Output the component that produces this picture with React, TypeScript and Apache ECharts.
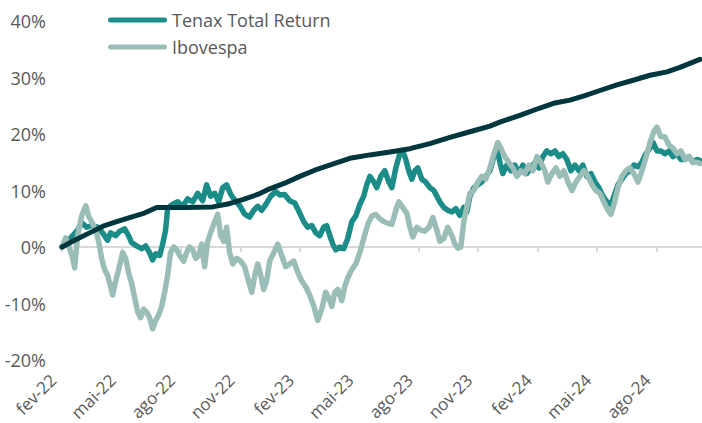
import React, { useEffect, useRef } from "react";
import * as echarts from "echarts";

// x = months since Feb 2022, y = cumulative return (%)
const xTickLabels = ["fev-22", "mai-22", "ago-22", "nov-22", "fev-23", "mai-23", "ago-23", "nov-23", "fev-24", "mai-24", "ago-24"];
const yTicks = { min: -20, max: 40, interval: 10 };

const tenax: [number, number][] = [
  [0, 0], [0.28, 1.0], [0.54, 2.0], [0.79, 3.0], [1.0, 4.3], [1.25, 3.5], [1.49, 3.8], [1.8, 3.5], [2.05, 2.5], [2.3, 1.2],
  [2.45, 2.5], [2.71, 2.0], [2.91, 2.8], [3.16, 3.2], [3.36, 2.0], [3.51, 0.8], [3.76, 0.2], [4.02, -0.3], [4.22, 0.2], [4.42, -1.0],
  [4.57, -2.3], [4.73, -1.2], [4.93, -1.5], [5.08, 0.5], [5.23, 3], [5.33, 6.8], [5.54, 7.5], [5.84, 8], [6.09, 7.2], [6.34, 8.5],
  [6.6, 8], [6.85, 9.5], [7.1, 8.2], [7.3, 11], [7.5, 9], [7.71, 9.5], [7.91, 8], [8.11, 10.5], [8.31, 11], [8.52, 9.3],
  [8.72, 8.3], [8.97, 7.3], [9.22, 5.8], [9.47, 5.3], [9.68, 6.5], [9.88, 7.2], [10.08, 6.5], [10.28, 7.5], [10.54, 9.0], [10.79, 9.8],
  [10.99, 9.2], [11.24, 9.3], [11.49, 8.2], [11.75, 7.8], [12.0, 6], [12.2, 4.5], [12.4, 3.5], [12.61, 3.8], [12.81, 2.5], [13.01, 2.0],
  [13.21, 3.5], [13.36, 3.8], [13.52, 2], [13.67, 0.5], [13.82, -0.5], [14.02, 0], [14.22, -0.3], [14.42, 1.5], [14.63, 4.5], [14.83, 5.5],
  [15.03, 7.5], [15.23, 9], [15.38, 11], [15.54, 12.5], [15.74, 11.5], [15.89, 10.5], [16.09, 12.5], [16.29, 13.5], [16.5, 11.5], [16.65, 10.5],
  [16.85, 14], [17.05, 16.5], [17.2, 17], [17.35, 15.5], [17.5, 13.5], [17.66, 12], [17.81, 13.5], [17.96, 14], [18.16, 12], [18.36, 11.5],
  [18.57, 10.5], [18.77, 10], [18.92, 9], [19.07, 8], [19.27, 7], [19.47, 6.5], [19.68, 6.2], [19.88, 6.8], [20.08, 5.6], [20.28, 7],
  [20.43, 6.2], [20.59, 9], [20.79, 10.5], [20.99, 11], [21.19, 11.5], [21.39, 12.5], [21.6, 13.5], [21.8, 16], [21.95, 17.5], [22.1, 15],
  [22.25, 13], [22.45, 14.5], [22.66, 13.5], [22.86, 14.5], [23.06, 13], [23.26, 14.5], [23.46, 13], [23.67, 14], [23.87, 15], [24.07, 14],
  [24.27, 16], [24.47, 17], [24.68, 16.5], [24.88, 17], [25.08, 16], [25.28, 16.5], [25.48, 15.5], [25.69, 13.5], [25.89, 14.5], [26.09, 13.5],
  [26.29, 14.5], [26.49, 12.5], [26.7, 13], [26.9, 11.5], [27.1, 10.5], [27.3, 9], [27.51, 8], [27.71, 7.5], [27.86, 9], [28.06, 11],
  [28.26, 12], [28.46, 13], [28.67, 13.5], [28.87, 14.5], [29.07, 14.2], [29.27, 15], [29.47, 16.5], [29.68, 17.5], [29.83, 18.5], [30.03, 17],
  [30.23, 17], [30.43, 16.5], [30.64, 17], [30.84, 16], [31.04, 16.5], [31.24, 15.5], [31.44, 15.5], [31.64, 16], [31.85, 15], [32.05, 15.5],
  [32.2, 15.3],
];

const ibovespa: [number, number][] = [
  [0, 0], [0.18, 1.6], [0.38, -0.2], [0.54, -2], [0.64, -3.7], [0.79, 2], [0.99, 5.5], [1.2, 7.3], [1.34, 5.5], [1.49, 4.5],
  [1.7, 3], [1.85, 1], [2.0, -2], [2.15, -4], [2.3, -5], [2.45, -7], [2.56, -8.5], [2.71, -6], [2.86, -4], [3.06, -1],
  [3.21, -2], [3.36, -4.5], [3.52, -6.5], [3.67, -9], [3.82, -11.5], [3.97, -12.5], [4.12, -11], [4.27, -11.5], [4.42, -12.5], [4.58, -14.5],
  [4.73, -13], [4.88, -12], [5.03, -10.5], [5.18, -8], [5.33, -5], [5.48, -1], [5.64, 0], [5.79, -0.5], [5.94, -1.5], [6.14, -2.5],
  [6.29, -1], [6.44, 0], [6.6, -0.5], [6.75, -2], [6.9, -1.5], [7.05, 0.5], [7.2, -3.5], [7.35, 1], [7.5, 2.5], [7.71, 4.5],
  [7.86, 5.8], [8.01, 2], [8.16, 1], [8.31, 3.5], [8.46, -1], [8.62, -3], [8.82, -2], [9.02, -2.5], [9.22, -3.5], [9.37, -5.5],
  [9.58, -8], [9.73, -5], [9.88, -3], [10.03, -5], [10.18, -7.5], [10.33, -6], [10.48, -2.5], [10.69, -1], [10.89, 0.5], [11.09, -1.5],
  [11.29, -3.5], [11.49, -3], [11.7, -2.5], [11.9, -4.5], [12.1, -6], [12.3, -7], [12.5, -8.5], [12.71, -10.5], [12.91, -13], [13.11, -11],
  [13.31, -8], [13.46, -9], [13.62, -10.5], [13.77, -8], [13.92, -7.5], [14.12, -9.5], [14.27, -7], [14.42, -5.5], [14.63, -4], [14.83, -3],
  [15.03, -1], [15.23, 1.5], [15.43, 4], [15.64, 5.5], [15.84, 5.8], [16.04, 5], [16.24, 4.5], [16.44, 4.2], [16.65, 4], [16.85, 6.5],
  [17.0, 8], [17.2, 7], [17.4, 6], [17.56, 3.5], [17.71, 1.8], [17.91, 3.5], [18.11, 3], [18.31, 2.8], [18.52, 3.5], [18.72, 5.2],
  [18.92, 3], [19.07, 1], [19.27, 1.5], [19.47, 3.5], [19.68, 2], [19.83, 0.5], [19.98, -0.2], [20.13, 0], [20.28, 4.5], [20.43, 7],
  [20.59, 9.5], [20.79, 10], [20.99, 11.5], [21.19, 12.5], [21.39, 12], [21.6, 14], [21.8, 16.5], [22.0, 18.5], [22.15, 17.5], [22.35, 16],
  [22.55, 15], [22.76, 14], [22.96, 12.5], [23.16, 13.5], [23.36, 13], [23.56, 14.5], [23.77, 13.5], [23.97, 16], [24.17, 15], [24.37, 13.5],
  [24.52, 11.5], [24.73, 13], [24.93, 14], [25.13, 12.5], [25.33, 13.5], [25.54, 11.5], [25.74, 10], [25.94, 11.5], [26.14, 12.5], [26.34, 13.5],
  [26.55, 12.5], [26.75, 11], [26.95, 10], [27.15, 9.5], [27.35, 8], [27.56, 6.5], [27.71, 5.8], [27.86, 7.5], [28.06, 10.5], [28.26, 12.5],
  [28.46, 13.5], [28.67, 14], [28.87, 13], [29.07, 11.5], [29.27, 13.5], [29.47, 15.8], [29.68, 18.5], [29.88, 20.5], [30.03, 21.2], [30.23, 19.5],
  [30.43, 19.5], [30.64, 18], [30.84, 17.5], [31.04, 16.5], [31.24, 17], [31.44, 15.5], [31.64, 16], [31.85, 15], [32.05, 15], [32.2, 14.8],
];

const cdi: [number, number][] = [
  [0, 0], [0.64, 1.2], [1.39, 2.5], [2.15, 3.8], [2.76, 4.5], [3.41, 5.2], [4.16, 6], [4.78, 7], [6.19, 7], [7.61, 7.1],
  [8.36, 7.6], [9.12, 8.4], [9.88, 9.3], [10.48, 10.3], [11.24, 11.3], [12.0, 12.5], [12.91, 13.8], [13.77, 14.8], [14.53, 15.7], [15.54, 16.3],
  [16.55, 16.8], [17.56, 17.4], [18.57, 18.3], [19.58, 19.4], [20.59, 20.4], [21.6, 21.4], [22.1, 22.1], [23.11, 23.3], [24.12, 24.6], [24.88, 25.5],
  [25.64, 26], [26.39, 26.8], [27.15, 27.7], [28.01, 28.7], [28.92, 29.6], [29.68, 30.4], [30.54, 31], [31.19, 31.8], [31.69, 32.5], [32.2, 33.2],
];

const FONT = "'Open Sans', sans-serif";
const TEXT = "#595959";
const FS = 18;

export default function App() {
  const ref = useRef<HTMLDivElement>(null);
  useEffect(() => {
    if (!ref.current) return;
    const chart = echarts.init(ref.current, undefined, { renderer: "svg" });
    const xRange = { min: 0, max: 33, interval: 3 };
    chart.setOption({
      animation: false,
      backgroundColor: "#ffffff",
      textStyle: { fontFamily: FONT },
      grid: [
        { left: 62, right: -13.8, top: 21, bottom: 63, containLabel: false, outerBoundsMode: "none" },
        // same plot, nudged, only carries the rotated month labels
        { left: 53, right: -4.8, top: 21, bottom: 63, containLabel: false, outerBoundsMode: "none" },
      ],
      legend: {
        data: ["Tenax Total Return", "Ibovespa"],
        orient: "vertical",
        left: 108,
        top: 10,
        padding: 0,
        itemWidth: 59,
        itemHeight: 5,
        itemGap: 7,
        icon: "path://M2.5,0 L56.5,0 A2.5,2.5 0 0 1 56.5,5 L2.5,5 A2.5,2.5 0 0 1 2.5,0 Z",
        textStyle: { color: TEXT, fontSize: FS, lineHeight: 20, fontFamily: FONT },
      },
      xAxis: [
        {
          type: "value",
          gridIndex: 0,
          ...xRange,
          position: "bottom",
          axisLine: { show: true, onZero: true, onZeroAxisIndex: 0, lineStyle: { color: "#d9d9d9", width: 2 } },
          axisTick: { show: true, length: 5, lineStyle: { color: "#d9d9d9", width: 2 } },
          axisLabel: { show: false },
          splitLine: { show: false },
        },
        {
          type: "value",
          gridIndex: 1,
          ...xRange,
          position: "bottom",
          axisLine: { show: false, onZero: false },
          axisTick: { show: false },
          splitLine: { show: false },
          axisLabel: {
            rotate: 45,
            margin: 17,
            color: TEXT,
            fontSize: 17,
            fontFamily: FONT,
            formatter: (v: number) => xTickLabels[Math.round(v / 3)] ?? "",
          },
        },
      ],
      yAxis: [
        {
          type: "value",
          gridIndex: 0,
          min: yTicks.min,
          max: yTicks.max,
          interval: yTicks.interval,
          axisLine: { show: false },
          axisTick: { show: false },
          splitLine: { show: false },
          axisLabel: { margin: 16, color: TEXT, fontSize: FS, fontFamily: FONT, formatter: "{value}%" },
        },
        {
          type: "value",
          gridIndex: 1,
          min: yTicks.min,
          max: yTicks.max,
          interval: yTicks.interval,
          show: false,
        },
      ],
      series: [
        {
          name: "Tenax Total Return",
          type: "line",
          xAxisIndex: 0,
          yAxisIndex: 0,
          data: tenax,
          showSymbol: false,
          symbol: "none",
          color: "#1b8c87",
          lineStyle: { width: 5.5, color: "#1b8c87", cap: "round", join: "round" },
        },
        {
          name: "Ibovespa",
          type: "line",
          xAxisIndex: 0,
          yAxisIndex: 0,
          data: ibovespa,
          showSymbol: false,
          symbol: "none",
          color: "#9bbdb8",
          lineStyle: { width: 5.5, color: "#9bbdb8", cap: "round", join: "round" },
        },
        {
          name: "CDI",
          type: "line",
          xAxisIndex: 0,
          yAxisIndex: 0,
          data: cdi,
          showSymbol: false,
          symbol: "none",
          color: "#00363e",
          lineStyle: { width: 5, color: "#00363e", cap: "round", join: "round" },
        },
      ],
    });
    return () => chart.dispose();
  }, []);
  return <div ref={ref} style={{ position: "fixed", left: 0, top: 0, width: 702, height: 423 }} />;
}
